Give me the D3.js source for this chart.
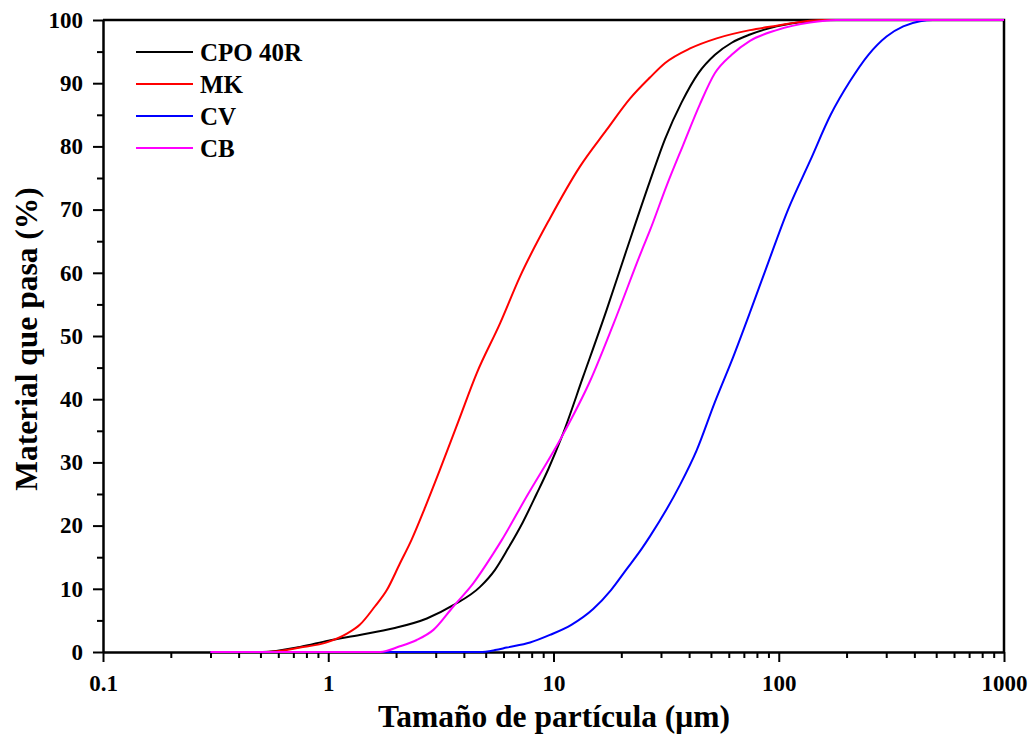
<!DOCTYPE html>
<html>
<head>
<meta charset="utf-8">
<script src="https://cdn.jsdelivr.net/npm/d3@7"></script>
<style>
  body { margin: 0; background: #fff; }
  text { font-family: "Liberation Serif", "Times New Roman", serif; font-weight: bold; }
</style>
</head>
<body>
<div id="chart-area"></div>
<script>
// particle size (µm) and % passing
const cpoSize = [0.3, 0.51, 0.75, 1.0, 1.38, 1.95, 2.74, 3.59, 4.72, 5.5, 6.29, 7.3, 8.41, 9.5, 10.9, 13.55, 17.2, 21.1, 26.8, 31.3, 37.1, 44, 52.1, 61.8, 74.5, 97.9, 137.7, 163, 1000]
const cpoPass = [0, 0, 0.8, 1.8, 2.7, 3.75, 5.3, 7.4, 10.3, 13, 16.4, 20.5, 25, 29, 34.1, 43.6, 54.1, 63.6, 74.5, 81.2, 87, 91.6, 94.5, 96.4, 97.7, 99, 99.8, 100, 100]

const mkSize = [0.3, 0.53, 0.75, 1.0, 1.21, 1.38, 1.61, 1.82, 2.08, 2.34, 2.7, 3.13, 3.8, 4.56, 5.79, 7.1, 9.64, 13.1, 17.2, 21.9, 26.8, 31.3, 40.4, 53, 74.5, 97.9, 137.7, 160, 1000]
const mkPass = [0, 0, 0.7, 1.6, 2.9, 4.3, 7.2, 9.8, 14, 17.7, 23, 28.8, 36.7, 44.1, 52, 59.4, 68.6, 76.8, 82.6, 87.6, 90.9, 93.2, 95.5, 97.1, 98.4, 99.1, 99.9, 100, 100]

const cvSize = [0.3, 4.72, 5.5, 6.2, 7.87, 9.64, 12, 15, 18, 21, 24.7, 26.8, 36.4, 43.2, 52, 62.8, 75, 88.3, 110, 137.7, 170, 207, 250, 301, 357, 424, 484, 1000]
const cvPass = [0, 0, 0.3, 0.7, 1.5, 2.7, 4.3, 6.8, 9.8, 13, 16.4, 18.3, 26.4, 31.9, 39.5, 46.7, 54, 60.9, 70, 77.7, 85, 90.3, 94.5, 97.4, 99, 99.8, 100, 100]

const cbSize = [0.3, 1.7, 2.08, 2.47, 2.93, 3.59, 4.41, 5.41, 5.89, 7.6, 10.9, 14.5, 18.5, 24.7, 26.8, 31.8, 37.7, 44.7, 52.1, 61.8, 74.5, 97.9, 137.7, 180, 1000]
const cbPass = [0, 0, 0.9, 1.9, 3.5, 7.2, 10.9, 15.6, 17.7, 24.6, 34.1, 42.8, 52, 63.6, 66.7, 73.8, 80.3, 86.7, 91.6, 94.5, 96.7, 98.4, 99.6, 100, 100]

const seriesNames = ['CPO 40R', 'MK', 'CV', 'CB']
const seriesColors = ['#000000', '#ff0000', '#0000ff', '#ff00ff']

const xTicks = [0.1, 1, 10, 100, 1000]
const yTicks = [0, 10, 20, 30, 40, 50, 60, 70, 80, 90, 100]

const canvas = { width: 1034, height: 736 }
const margin = { left: 103, right: 30, top: 20, bottom: 84 }
const group = {
    width: canvas.width - margin.left - margin.right,
    height: canvas.height - margin.top - margin.bottom
}

const series = [
    { name: seriesNames[0], color: seriesColors[0], values: cpoSize.map((s, i) => ({ size: s, pass: cpoPass[i] })) },
    { name: seriesNames[1], color: seriesColors[1], values: mkSize.map((s, i) => ({ size: s, pass: mkPass[i] })) },
    { name: seriesNames[2], color: seriesColors[2], values: cvSize.map((s, i) => ({ size: s, pass: cvPass[i] })) },
    { name: seriesNames[3], color: seriesColors[3], values: cbSize.map((s, i) => ({ size: s, pass: cbPass[i] })) }
]

let svg = d3.select('#chart-area')
    .append('svg')
    .attr('width', canvas.width)
    .attr('height', canvas.height)

let g = svg.append('g')
    .attr('transform', `translate(${margin.left},${margin.top})`)

// scales
let scaleX = d3.scaleLog()
    .domain([0.1, 1000])
    .range([0, group.width])

let scaleY = d3.scaleLinear()
    .domain([0, 100])
    .range([group.height, 0])

// minor ticks
let xMinor = []
xTicks.slice(0, -1).forEach(t => { for (let k = 2; k <= 9; k++) xMinor.push(t * k) })
let yMinor = yTicks.slice(0, -1).map(t => t + 5)

g.append('g')
    .attr('transform', `translate(0, ${group.height})`)
    .call(d3.axisBottom(scaleX).tickValues(xMinor).tickFormat('').tickSize(6).tickSizeOuter(0))
    .call(a => a.select('.domain').remove())

g.append('g')
    .call(d3.axisLeft(scaleY).tickValues(yMinor).tickFormat('').tickSize(6).tickSizeOuter(0))
    .call(a => a.select('.domain').remove())

// frame top and right
g.append('path')
    .attr('d', `M0,0H${group.width}V${group.height}`)
    .attr('fill', 'none')
    .attr('stroke', '#000')
    .attr('stroke-width', 2.5)

// major axes
let xAxis = d3.axisBottom(scaleX)
    .tickValues(xTicks)
    .tickFormat(d => String(d))
    .tickSize(10)
    .tickSizeOuter(0)
    .tickPadding(13)
g.append('g')
    .attr('transform', `translate(0, ${group.height})`)
    .call(xAxis)
    .attr('font-size', 23)

let yAxis = d3.axisLeft(scaleY)
    .tickValues(yTicks)
    .tickSize(10)
    .tickSizeOuter(0)
    .tickPadding(10)
g.append('g')
    .call(yAxis)
    .attr('font-size', 23)

g.selectAll('.domain').attr('stroke-width', 2.5)
g.selectAll('.tick line').attr('stroke-width', 2)
g.selectAll('.tick text').attr('fill', '#000').attr('font-family', '"Liberation Serif", "Times New Roman", serif')

// curves, drawn over the axes
let line = d3.line()
    .x(d => scaleX(d.size))
    .y(d => scaleY(d.pass))
    .curve(d3.curveMonotoneX)

g.selectAll('.curve')
    .data(series)
    .enter()
    .append('path')
    .attr('class', 'curve')
    .attr('d', d => line(d.values))
    .attr('fill', 'none')
    .attr('stroke', d => d.color)
    .attr('stroke-width', 2)

// axis titles
svg.append('text')
    .attr('x', 554)
    .attr('y', 727)
    .attr('text-anchor', 'middle')
    .attr('font-size', 31.5)
    .text('Tamaño de partícula (μm)')

svg.append('text')
    .attr('transform', 'rotate(-90)')
    .attr('x', -339)
    .attr('y', 37)
    .attr('text-anchor', 'middle')
    .attr('font-size', 31.5)
    .text('Material que pasa (%)')

// legend
let legend = svg.append('g')
    .attr('transform', 'translate(136, 52)')

let rows = legend.selectAll('g')
    .data(series)
    .enter()
    .append('g')
    .attr('transform', (d, i) => `translate(0, ${i * 32})`)

rows.append('line')
    .attr('x1', 0)
    .attr('x2', 57)
    .attr('stroke', d => d.color)
    .attr('stroke-width', 2)

rows.append('text')
    .attr('x', 64)
    .attr('dy', '0.35em')
    .attr('font-size', 25)
    .text(d => d.name)
</script>
</body>
</html>
